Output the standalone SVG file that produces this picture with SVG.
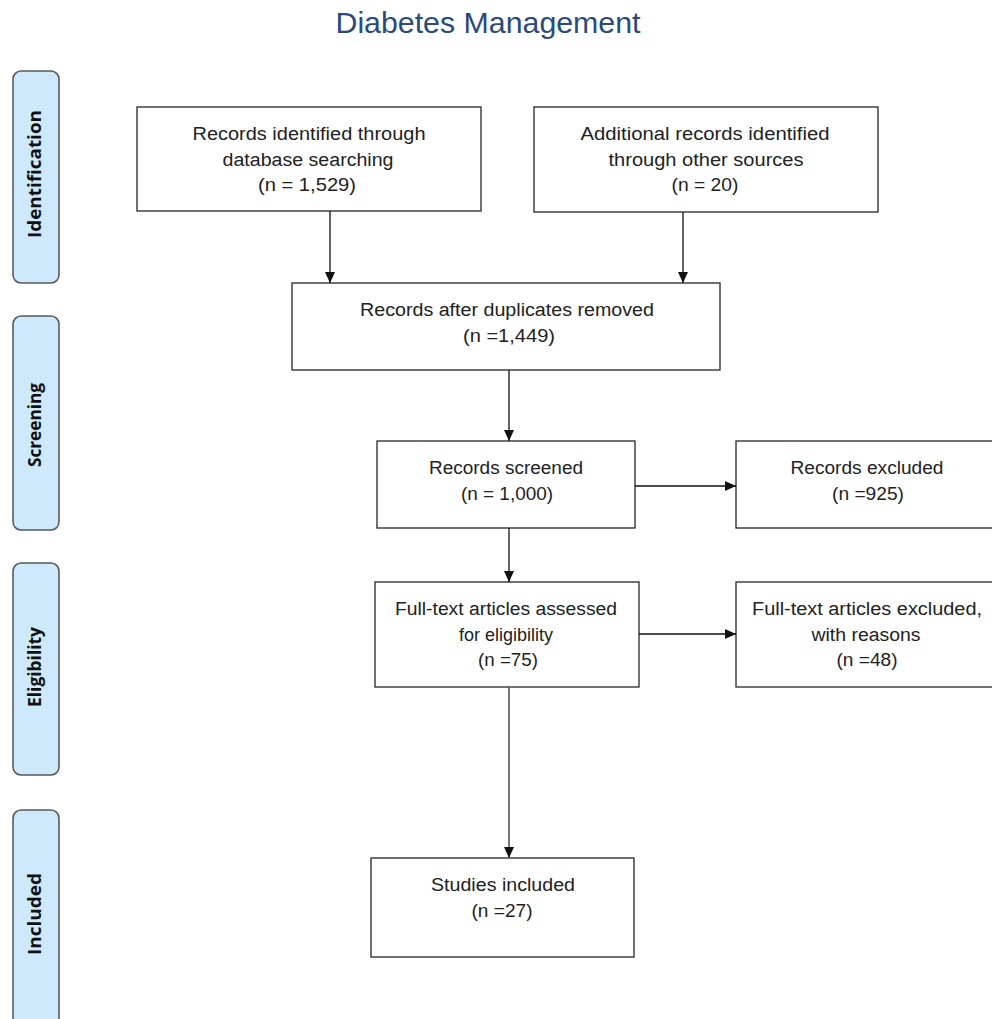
<svg xmlns="http://www.w3.org/2000/svg" width="992" height="1019" viewBox="0 0 992 1019">
<style>
.box{fill:#fff;stroke:#262626;stroke-width:1.3}
.phase{fill:#cde9fb;stroke:#5a5a5a;stroke-width:1.6}
.t{font-family:"Liberation Sans",Arial,sans-serif;font-size:18px;fill:#222;text-anchor:middle}
.p{font-family:"Open Sans","DejaVu Sans",sans-serif;font-size:17px;font-weight:700;fill:#111;text-anchor:middle}
.title{font-family:"Liberation Sans",Arial,sans-serif;font-size:29px;fill:#2b4a7c;text-anchor:middle}
.c{fill:none;stroke:#111;stroke-width:1.3}
</style>
<defs>
<marker id="ah" markerUnits="userSpaceOnUse" markerWidth="12" markerHeight="12" refX="11" refY="5" orient="auto" viewBox="0 0 12 10">
<path d="M0,0 L11,5 L0,10 z" fill="#111"/>
</marker>
</defs>
<rect width="992" height="1019" fill="#fff"/>
<text class="title" x="488" y="33" textLength="305" lengthAdjust="spacingAndGlyphs">Diabetes Management</text>

<g id="phase-identification">
<rect class="phase" x="13" y="71" width="46" height="212" rx="8"/>
<text class="p" transform="translate(41,174) rotate(-90)" textLength="128" lengthAdjust="spacingAndGlyphs">Identification</text>
</g>
<g id="phase-screening">
<rect class="phase" x="13" y="316" width="46" height="214" rx="8"/>
<text class="p" transform="translate(41,425) rotate(-90)" textLength="84" lengthAdjust="spacingAndGlyphs">Screening</text>
</g>
<g id="phase-eligibility">
<rect class="phase" x="13" y="563" width="46" height="212" rx="8"/>
<text class="p" transform="translate(41,667) rotate(-90)" textLength="80" lengthAdjust="spacingAndGlyphs">Eligibility</text>
</g>
<g id="phase-included">
<rect class="phase" x="13" y="810" width="46" height="230" rx="8"/>
<text class="p" transform="translate(41,914) rotate(-90)" textLength="82" lengthAdjust="spacingAndGlyphs">Included</text>
</g>

<g id="n-database">
<rect class="box" x="137" y="107" width="344" height="104"/>
<text class="t" x="309" y="140" textLength="233" lengthAdjust="spacingAndGlyphs">Records identified through</text>
<text class="t" x="308" y="166" textLength="171" lengthAdjust="spacingAndGlyphs">database searching</text>
<text class="t" x="307" y="191" textLength="98" lengthAdjust="spacingAndGlyphs">(n = 1,529)</text>
</g>
<g id="n-other">
<rect class="box" x="534" y="107" width="344" height="105"/>
<text class="t" x="705" y="140" textLength="249" lengthAdjust="spacingAndGlyphs">Additional records identified</text>
<text class="t" x="706" y="166" textLength="195" lengthAdjust="spacingAndGlyphs">through other sources</text>
<text class="t" x="705" y="191" textLength="67" lengthAdjust="spacingAndGlyphs">(n = 20)</text>
</g>
<g id="n-dedup">
<rect class="box" x="292" y="283" width="428" height="87"/>
<text class="t" x="507" y="316" textLength="294" lengthAdjust="spacingAndGlyphs">Records after duplicates removed</text>
<text class="t" x="509" y="342" textLength="92" lengthAdjust="spacingAndGlyphs">(n =1,449)</text>
</g>
<g id="n-screened">
<rect class="box" x="377" y="441" width="258" height="87"/>
<text class="t" x="506" y="474" textLength="154" lengthAdjust="spacingAndGlyphs">Records screened</text>
<text class="t" x="507" y="500" textLength="92" lengthAdjust="spacingAndGlyphs">(n = 1,000)</text>
</g>
<g id="n-excluded">
<rect class="box" x="736" y="441" width="262" height="87"/>
<text class="t" x="867" y="474" textLength="153" lengthAdjust="spacingAndGlyphs">Records excluded</text>
<text class="t" x="868" y="500" textLength="72" lengthAdjust="spacingAndGlyphs">(n =925)</text>
</g>
<g id="n-fulltext">
<rect class="box" x="375" y="582" width="264" height="105"/>
<text class="t" x="506" y="615" textLength="222" lengthAdjust="spacingAndGlyphs">Full-text articles assessed</text>
<text class="t" x="506" y="641">for eligibility</text>
<text class="t" x="508" y="666" textLength="60" lengthAdjust="spacingAndGlyphs">(n =75)</text>
</g>
<g id="n-fulltext-excluded">
<rect class="box" x="736" y="582" width="262" height="105"/>
<text class="t" x="867" y="615" textLength="230" lengthAdjust="spacingAndGlyphs">Full-text articles excluded,</text>
<text class="t" x="866" y="641" textLength="109" lengthAdjust="spacingAndGlyphs">with reasons</text>
<text class="t" x="867" y="666" textLength="61" lengthAdjust="spacingAndGlyphs">(n =48)</text>
</g>
<g id="n-included">
<rect class="box" x="371" y="858" width="263" height="99"/>
<text class="t" x="503" y="891" textLength="144" lengthAdjust="spacingAndGlyphs">Studies included</text>
<text class="t" x="502" y="917" textLength="61" lengthAdjust="spacingAndGlyphs">(n =27)</text>
</g>

<g id="connectors">
<line class="c" x1="330" y1="211" x2="330" y2="283" marker-end="url(#ah)"/>
<line class="c" x1="683" y1="212" x2="683" y2="283" marker-end="url(#ah)"/>
<line class="c" x1="509" y1="370" x2="509" y2="441" marker-end="url(#ah)"/>
<line class="c" x1="635" y1="486" x2="736" y2="486" marker-end="url(#ah)"/>
<line class="c" x1="509" y1="528" x2="509" y2="582" marker-end="url(#ah)"/>
<line class="c" x1="639" y1="634" x2="736" y2="634" marker-end="url(#ah)"/>
<line class="c" x1="509" y1="687" x2="509" y2="858" marker-end="url(#ah)" style="stroke:#555;stroke-width:1.6"/>
</g>
</svg>
